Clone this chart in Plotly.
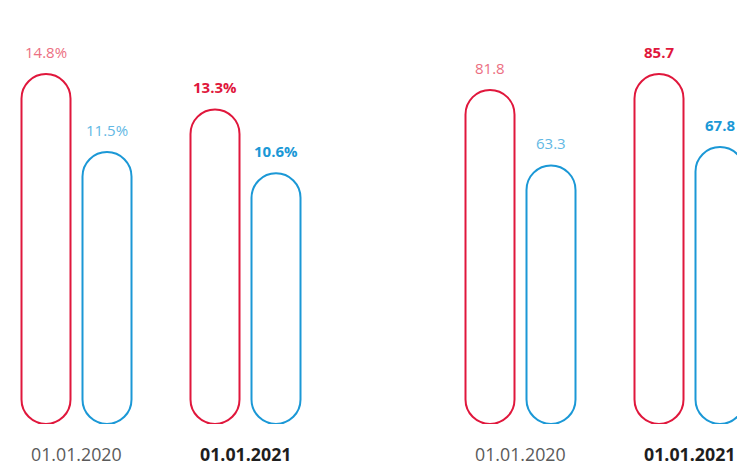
import plotly.graph_objects as go

RED = "#e0173c"
RED_LIGHT = "#ec6f82"
BLUE = "#1b98d6"
BLUE_LIGHT = "#62b8e4"
LABEL_GREY = "#5a5a5a"
LABEL_DARK = "#1e1e1e"

DATES = ["01.01.2020", "01.01.2021"]

# left panel (percent)
LEFT_RED = [14.8, 13.3]
LEFT_BLUE = [11.5, 10.6]

# right panel (index values)
RIGHT_RED = [81.8, 85.7]
RIGHT_BLUE = [63.3, 67.8]

W, H = 737, 465
MARGIN_B = 41
PLOT_H = H - MARGIN_B
BAR_PX = 350          # pixel height of the tallest pill in a panel
GROUP_PX = 169        # pixel distance between the two date groups
OFFSET = 30.5 / GROUP_PX
HALF_W = 24.5 / GROUP_PX
K = 0.5523            # bezier circle constant


def pill_path(xc, value, ymax):
    # rounded both ends; radius converted from x-units to y-units
    r_px = HALF_W * GROUP_PX
    ry = r_px * ymax / PLOT_H
    x0, x1 = xc - HALF_W, xc + HALF_W
    top, bot = value - ry, ry
    kx, ky = HALF_W * K, ry * K
    return (
        f"M{x0},{bot} L{x0},{top} "
        f"C{x0},{top + ky} {xc - kx},{value} {xc},{value} "
        f"C{xc + kx},{value} {x1},{top + ky} {x1},{top} "
        f"L{x1},{bot} "
        f"C{x1},{bot - ky} {xc + kx},0 {xc},0 "
        f"C{xc - kx},0 {x0},{bot - ky} {x0},{bot} Z"
    )


fig = go.Figure()
shapes = []
annotations = []

panels = [
    ("x", "y", LEFT_RED, LEFT_BLUE, "%"),
    ("x2", "y2", RIGHT_RED, RIGHT_BLUE, ""),
]

for xref, yref, reds, blues, suffix in panels:
    ymax = max(reds + blues) * PLOT_H / BAR_PX
    for i, date in enumerate(DATES):
        bold = i == 1
        for vals, sign, dark, light in [
            (reds, -1, RED, RED_LIGHT),
            (blues, 1, BLUE, BLUE_LIGHT),
        ]:
            xc = i + sign * OFFSET
            v = vals[i]
            shapes.append(dict(
                type="path",
                path=pill_path(xc, v, ymax),
                xref=xref,
                yref=yref,
                line=dict(color=dark, width=2),
                fillcolor="rgba(0,0,0,0)",
                layer="above",
            ))
            txt = f"{v:.1f}{suffix}"
            annotations.append(dict(
                x=xc,
                y=v,
                xref=xref,
                yref=yref,
                text=f"<b>{txt}</b>" if bold else txt,
                showarrow=False,
                yshift=22,
                font=dict(
                    size=15,
                    color=dark if bold else light,
                    family="Open Sans, sans-serif",
                ),
            ))
        annotations.append(dict(
            x=i,
            y=0,
            xref=xref,
            yref=yref,
            text=f"<b>{date}</b>" if bold else date,
            showarrow=False,
            yanchor="middle",
            yshift=-30,
            font=dict(
                size=17.8,
                color=LABEL_DARK if bold else LABEL_GREY,
                family="Open Sans, sans-serif",
            ),
        ))
    fig.add_trace(go.Scatter(
        x=[0, 1],
        y=[0, 0],
        xaxis=xref,
        yaxis=yref,
        mode="markers",
        marker=dict(opacity=0),
        hoverinfo="skip",
        showlegend=False,
    ))

half = W / 2
left_start = -76.5 / GROUP_PX
right_start = -(520.5 - half) / GROUP_PX

fig.update_layout(
    width=W,
    height=H,
    margin=dict(l=0, r=0, t=0, b=MARGIN_B),
    paper_bgcolor="white",
    plot_bgcolor="white",
    showlegend=False,
    shapes=shapes,
    annotations=annotations,
    xaxis=dict(
        domain=[0, 0.5],
        range=[left_start, left_start + half / GROUP_PX],
        visible=False,
    ),
    xaxis2=dict(
        domain=[0.5, 1],
        range=[right_start, right_start + half / GROUP_PX],
        visible=False,
    ),
    yaxis=dict(
        range=[0, max(LEFT_RED + LEFT_BLUE) * PLOT_H / BAR_PX],
        visible=False,
    ),
    yaxis2=dict(
        anchor="x2",
        range=[0, max(RIGHT_RED + RIGHT_BLUE) * PLOT_H / BAR_PX],
        visible=False,
    ),
)
fig.update_layout(xaxis2_anchor="y2")

# page body has an 8px default margin; remove it so the figure fills the window
fig.write_html(
    "out.html",
    config={"displayModeBar": False},
    post_script="document.body.style.margin='0';document.body.style.overflow='hidden';",
)
